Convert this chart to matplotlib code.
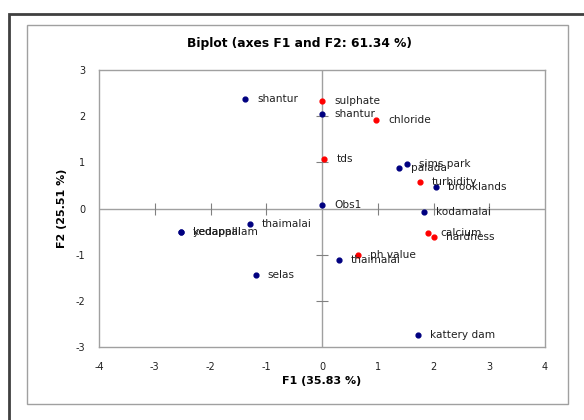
import numpy as np
import matplotlib
matplotlib.use("Agg")
import matplotlib.pyplot as plt
from matplotlib.patches import Rectangle

plt.rcParams['axes.unicode_minus'] = False

# observations (blue)
obs_names = ['shantur', 'shantur', 'Obs1', 'sims park', 'palada', 'brooklands',
             'kodamalai', 'thaimalai', 'kedapalli', 'yedappalam', 'selas',
             'thaimalai', 'kattery dam']
obs_f1 = [-1.38, 0.0, 0.0, 1.52, 1.39, 2.04, 1.83, -1.29, -2.53, -2.53, -1.19, 0.30, 1.72]
obs_f2 = [2.37, 2.05, 0.07, 0.97, 0.87, 0.47, -0.08, -0.33, -0.51, -0.51, -1.43, -1.12, -2.75]

# variables (red)
var_names = ['sulphate', 'chloride', 'tds', 'turbidity', 'calcium', 'hardness', 'ph value']
var_f1 = [0.0, 0.97, 0.04, 1.76, 1.91, 2.00, 0.65]
var_f2 = [2.32, 1.92, 1.08, 0.57, -0.53, -0.62, -1.01]

xticks = [-4, -3, -2, -1, 0, 1, 2, 3, 4]
yticks = [-3, -2, -1, 0, 1, 2, 3]

fig = plt.figure(figsize=(5.84, 4.2), dpi=100)
W, H = 584, 420

# outer frames
fig.patches.append(Rectangle((9 / W, -0.1), 1.2, (420 - 14) / H + 0.1, transform=fig.transFigure,
                             fill=False, edgecolor='#404040', linewidth=2))
fig.patches.append(Rectangle((27 / W, (420 - 404) / H), (568 - 27) / W, (404 - 25) / H,
                             transform=fig.transFigure, fill=False, edgecolor='#a0a0a0', linewidth=1))

ax = fig.add_axes([99 / W, (420 - 347) / H, 446 / W, 277 / H])
ax.set_xlim(-4, 4)
ax.set_ylim(-3, 3)
for s in ax.spines.values():
    s.set_color('#a0a0a0')
    s.set_linewidth(1)

# axis lines through origin with small cross ticks
ax.axhline(0, color='#a0a0a0', lw=1, zorder=1)
ax.axvline(0, color='#a0a0a0', lw=1, zorder=1)
for t in xticks[1:-1]:
    if t != 0:
        ax.plot(t, 0, marker='|', color='#808080', markersize=8, mew=0.8, zorder=1)
for t in yticks[1:-1]:
    if t != 0:
        ax.plot(0, t, marker='_', color='#808080', markersize=8, mew=0.8, zorder=1)

ax.set_xticks(xticks)
ax.set_yticks(yticks)
ax.tick_params(length=0, labelsize=7, colors='#202020', pad=10)
ax.tick_params(axis='x', pad=11)

ax.scatter(obs_f1, obs_f2, s=12, color='#000080', zorder=3)
ax.scatter(var_f1, var_f2, s=12, color='#ff0000', zorder=3)

for n, x, y in zip(obs_names, obs_f1, obs_f2):
    ax.annotate(n, (x, y), xytext=(12, 0), textcoords='offset pixels',
                va='center', ha='left', fontsize=7.6, color='#202020')
for n, x, y in zip(var_names, var_f1, var_f2):
    ax.annotate(n, (x, y), xytext=(12, 0), textcoords='offset pixels',
                va='center', ha='left', fontsize=7.6, color='#202020')

fig.text(299 / W, 1 - 44 / H, 'Biplot (axes F1 and F2: 61.34 %)', ha='center', va='center',
         fontsize=8.8, fontweight='bold')
fig.text(322 / W, 1 - 381 / H, 'F1 (35.83 %)', ha='center', va='center', fontsize=8, fontweight='bold')
fig.text(62 / W, 1 - 208 / H, 'F2 (25.51 %)', ha='center', va='center', fontsize=8,
         fontweight='bold', rotation=90)

fig.savefig('out.png', dpi=100)
